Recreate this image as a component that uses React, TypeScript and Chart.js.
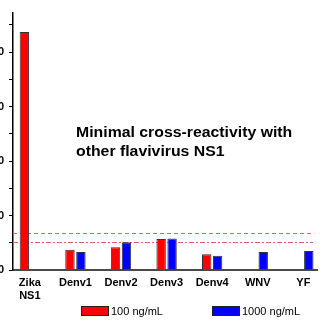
import React, { useEffect, useRef } from "react";
import { Chart, registerables } from "chart.js";

Chart.register(...registerables);

const categories: string[][] = [["Zika", "NS1"], ["Denv1"], ["Denv2"], ["Denv3"], ["Denv4"], ["WNV"], ["YF"]];
const seriesLabels = ["100 ng/mL", "1000 ng/mL"];
const values100: (number | null)[] = [43.7, 3.7, 4.2, 5.7, 2.9, null, null];
const values1000: (number | null)[] = [null, 3.3, 5.1, 5.8, 2.6, 3.3, 3.5];
const thresholds = [6.8, 5.1];
const chartTitle = ["Minimal cross-reactivity with", "other flavivirus NS1"];

const overlayPlugin = {
  id: "overlay",
  beforeDatasetsDraw(chart: any) {
    const { ctx, chartArea, scales } = chart;
    ctx.save();
    ctx.strokeStyle = "#f25a68";
    ctx.lineWidth = 1;
    thresholds.forEach((t, i) => {
      const y = Math.round(scales.y.getPixelForValue(t)) + 0.5;
      ctx.setLineDash(i === 0 ? [4, 3] : [5, 2, 2, 2]);
      ctx.beginPath();
      ctx.moveTo(chartArea.left, y);
      ctx.lineTo(chartArea.right - 4, y);
      ctx.stroke();
    });
    ctx.restore();
  },
  afterDraw(chart: any) {
    const { ctx, chartArea } = chart;
    ctx.save();
    ctx.fillStyle = "#000";
    ctx.font = "bold 14px 'Liberation Sans', Arial, sans-serif";
    ctx.textBaseline = "top";
    ctx.textAlign = "left";
    const tx = chartArea.left + 63;
    ctx.translate(tx, 0);
    ctx.scale(1.13, 1);
    chartTitle.forEach((line, i) => {
      ctx.fillText(line, 0, 126 + i * 19);
    });
    ctx.restore();
    ctx.save();
    // legend
    ctx.font = "11px 'Liberation Sans', Arial, sans-serif";
    ctx.textBaseline = "middle";
    const legendX = [chartArea.left + 68, chartArea.left + 199];
    const ly = 311;
    chart.data.datasets.forEach((ds: any, i: number) => {
      const x = legendX[i];
      ctx.fillStyle = ds.backgroundColor;
      ctx.fillRect(x, ly - 4.5, 28, 9);
      ctx.strokeStyle = "#222";
      ctx.lineWidth = 1;
      ctx.strokeRect(x + 0.5, ly - 4.5, 27, 9);
      ctx.fillStyle = "#000";
      ctx.fillText(ds.label, x + 30, ly + 0.5);
    });
    ctx.restore();
  },
};

export default function App() {
  const ref = useRef<HTMLCanvasElement>(null);
  useEffect(() => {
    if (!ref.current) return;
    const toXY = (arr: (number | null)[]) => arr.map((v, i) => ({ x: i, y: v }));
    const chart = new Chart(ref.current, {
      type: "bar",
      data: {
        datasets: [
          {
            label: seriesLabels[0],
            data: toXY(values100) as any,
            backgroundColor: "#ff0000",
            borderColor: "#333",
            borderWidth: 1,
          },
          {
            label: seriesLabels[1],
            data: toXY(values1000) as any,
            backgroundColor: "#0000ff",
            borderColor: "#333",
            borderWidth: 1,
          },
        ],
      },
      options: {
        animation: false,
        responsive: false,
        datasets: { bar: { categoryPercentage: 0.48, barPercentage: 0.86, grouped: true } } as any,
        layout: { padding: { top: 13, left: 0, right: 8, bottom: 0 } },
        plugins: { legend: { display: false }, tooltip: { enabled: false }, title: { display: false } },
        scales: {
          x: {
            type: "linear",
            offset: false,
            min: -0.37,
            max: 6.3,
            grid: { display: false, drawTicks: false },
            border: { display: true, color: "#4a4a4a", width: 2 },
            ticks: {
              stepSize: 1,
              autoSkip: false,
              maxRotation: 0,
              padding: 6,
              includeBounds: false,
              color: "#000",
              font: { family: "'Liberation Sans', Arial, sans-serif", size: 11, weight: "bold" },
              callback: (v: any) => {
                const n = Number(v);
                return Number.isInteger(n) && categories[n] ? categories[n] : "";
              },
            },
            afterFit: (s: any) => {
              s.height = 55;
              s.paddingLeft = 0;
              s.paddingRight = 0;
            },
          },
          y: {
            type: "linear",
            min: 0,
            max: 47.2,
            grid: { display: true, drawOnChartArea: false, drawTicks: true, tickLength: 4, color: "#000" },
            border: { display: true, color: "#000", width: 1.5 },
            ticks: {
              stepSize: 5,
              includeBounds: false,
              padding: 5,
              color: "#000",
              font: { family: "'Liberation Sans', Arial, sans-serif", size: 11, weight: "bold" },
              callback: (v: any) => (Number(v) % 10 === 0 ? String(v) : ""),
            },
            afterFit: (s: any) => {
              s.width = 30;
              s.paddingTop = 0;
              s.paddingBottom = 0;
            },
          },
        },
      } as any,
      plugins: [overlayPlugin],
    });
    return () => chart.destroy();
  }, []);
  return (
    <div style={{ position: "absolute", left: -17, top: 0 }}>
      <canvas ref={ref} width={342} height={325} style={{ display: "block" }} />
    </div>
  );
}
